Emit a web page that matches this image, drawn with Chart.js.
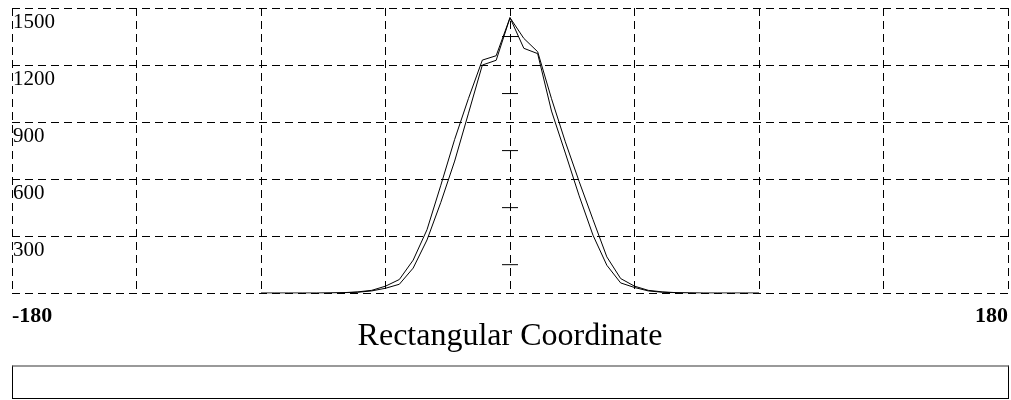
<!DOCTYPE html>
<html>
<head>
<meta charset="utf-8">
<script src="https://cdn.jsdelivr.net/npm/chart.js@4/dist/chart.umd.min.js"></script>
<style>
    body { margin: 0; background: #fff; }
    #wrap { position: relative; width: 1011px; height: 400px; }
    #wrap canvas { position: absolute; left: 0; top: 0; }
    #legendBox {
        position: absolute;
        left: 12px;
        top: 365px;
        width: 995px;
        height: 31px;
        border: 1px solid #000;
        border-top: 2px solid #999;
    }
</style>
</head>
<body>
<div id="wrap">
    <canvas id="distChart" width="1011" height="362"></canvas>
    <div id="legendBox"></div>
</div>
<script>
// 각도 (5도 간격)
const angles = [-90, -85, -80, -75, -70, -65, -60, -55, -50, -45, -40, -35, -30, -25, -20, -15, -10, -5,
    0, 5, 10, 15, 20, 25, 30, 35, 40, 45, 50, 55, 60, 65, 70, 75, 80, 85, 90];

// 바깥쪽 곡선
const outerValues = [0, 0, 0, 0, 0, 1, 3, 7, 15, 37, 72, 174, 334, 568, 809, 1025, 1226, 1249,
    1449, 1340, 1270, 1023, 796, 587, 387, 191, 77, 37, 15, 7, 3, 1, 0, 0, 0, 0, 0];

// 안쪽 곡선
const innerValues = [0, 0, 0, 0, 0, 1, 2, 5, 12, 26, 47, 132, 280, 478, 695, 947, 1200, 1225,
    1449, 1288, 1260, 958, 737, 512, 305, 147, 54, 30, 12, 5, 2, 1, 0, 0, 0, 0, 0];

// 축 눈금
const xTicks = [-180, -135, -90, -45, 0, 45, 90, 135, 180];
const yTicks = [0, 300, 600, 900, 1200, 1500];
const centerMarks = [150, 450, 750, 1050, 1350]; // 가운데 축의 작은 눈금

const toPoints = (vals) => vals.map((v, i) => ({ x: angles[i], y: v }));

const ctx = document.getElementById("distChart").getContext("2d");

const distChart = new Chart(ctx, {
    type: "scatter",
    data: {
        datasets: [
            {
                data: toPoints(outerValues),
                showLine: true,
                borderColor: "#000",
                borderWidth: 1,
                pointRadius: 0,
                tension: 0,
            },
            {
                data: toPoints(innerValues),
                showLine: true,
                borderColor: "#000",
                borderWidth: 1,
                pointRadius: 0,
                tension: 0,
            },
            {
                data: centerMarks.map((v) => ({ x: 0, y: v })),
                showLine: false,
                pointStyle: "line",
                pointRadius: 8,
                borderColor: "#000",
                borderWidth: 1,
            },
        ],
    },
    options: {
        responsive: false,
        animation: false,
        layout: {
            autoPadding: false,
            padding: { top: 8, left: 10, right: 3, bottom: 0 },
        },
        plugins: {
            legend: { display: false },
            tooltip: { enabled: false },
        },
        scales: {
            x: {
                type: "linear",
                min: -180,
                max: 180,
                afterBuildTicks: (axis) => {
                    axis.ticks = xTicks.map((v) => ({ value: v }));
                },
                grid: {
                    color: "#000",
                    tickLength: 10,
                    tickColor: "rgba(0,0,0,0)",
                },
                border: {
                    display: false,
                    dash: [8, 5],
                },
                ticks: {
                    align: "inner",
                    maxRotation: 0,
                    autoSkip: false,
                    padding: 0,
                    color: "#000",
                    font: { family: "'Liberation Serif', serif", size: 22, weight: "bold" },
                    callback: (value) => (value === -180 || value === 180 ? String(value) : ""),
                },
                title: {
                    display: true,
                    text: "Rectangular Coordinate",
                    color: "#000",
                    padding: { top: -12, bottom: 6 },
                    font: { family: "'Liberation Serif', serif", size: 32 },
                },
            },
            y: {
                min: 0,
                max: 1500,
                afterBuildTicks: (axis) => {
                    axis.ticks = yTicks.map((v) => ({ value: v }));
                },
                grid: {
                    color: "#000",
                    drawTicks: false,
                },
                border: {
                    display: false,
                    dash: [8, 5],
                },
                ticks: {
                    mirror: true,
                    align: "start",
                    padding: 1,
                    labelOffset: 4,
                    color: "#000",
                    font: { family: "'Liberation Serif', serif", size: 21 },
                    callback: (value) => (value === 0 ? "" : String(value)),
                },
            },
        },
    },
});
</script>
</body>
</html>
